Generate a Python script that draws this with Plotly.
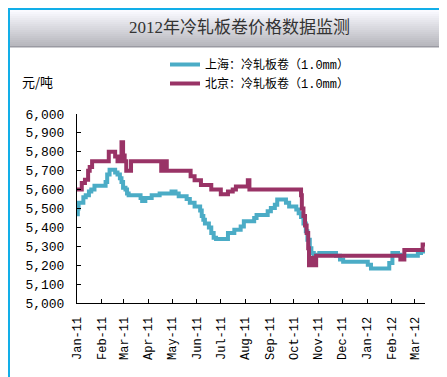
import plotly.graph_objects as go
import pandas as pd

# ---------------- data ----------------
# Shanghai: cold-rolled coil (1.0mm), change points (date, price)
sh_dates = ["2011-01-01","2011-01-02","2011-01-03","2011-01-09","2011-01-12","2011-01-16","2011-01-19",
            "2011-01-23","2011-02-06","2011-02-08","2011-02-11","2011-02-18","2011-02-21","2011-02-24",
            "2011-02-26","2011-02-28","2011-03-03","2011-03-05","2011-03-07","2011-03-22","2011-03-24",
            "2011-03-28","2011-04-05","2011-04-15","2011-04-30","2011-05-05","2011-05-09","2011-05-19",
            "2011-05-23","2011-05-29","2011-06-05","2011-06-07","2011-06-09","2011-06-11","2011-06-16",
            "2011-06-19","2011-06-22","2011-06-25","2011-07-10","2011-07-18","2011-07-26","2011-07-30",
            "2011-08-12","2011-08-15","2011-08-29","2011-09-02","2011-09-07","2011-09-10","2011-09-21",
            "2011-09-25","2011-10-04","2011-10-07","2011-10-10","2011-10-13","2011-10-16","2011-10-18",
            "2011-10-21","2011-10-23","2011-10-26","2011-11-02","2011-11-23","2011-11-28","2011-12-02",
            "2012-01-02","2012-01-06","2012-01-29","2012-02-02","2012-02-09","2012-02-12","2012-03-05",
            "2012-03-09","2012-03-14"]
sh_values = [5470,5500,5530,5560,5570,5590,5600,
             5620,5640,5680,5705,5690,5680,5660,
             5640,5610,5600,5580,5570,5555,5540,
             5555,5570,5580,5590,5580,5565,5550,
             5530,5510,5490,5460,5440,5420,5400,
             5370,5345,5338,5370,5388,5405,5432,
             5450,5465,5485,5503,5520,5547,5530,
             5510,5495,5475,5455,5420,5380,5335,
             5290,5265,5255,5265,5250,5230,5218,
             5203,5182,5212,5265,5255,5250,5265,
             5273,5273]

# Beijing: cold-rolled coil (1.0mm)
bj_dates = ["2011-01-01","2011-01-07","2011-01-11","2011-01-15","2011-01-17","2011-01-20","2011-02-10",
            "2011-02-18","2011-02-21","2011-02-26","2011-02-28","2011-03-02","2011-03-04","2011-03-10",
            "2011-04-17","2011-04-19","2011-04-24","2011-05-24","2011-05-29","2011-06-06","2011-06-19",
            "2011-07-01","2011-07-10","2011-07-16","2011-07-20","2011-08-04","2011-08-06","2011-10-10",
            "2011-10-11","2011-10-13","2011-10-15","2011-10-17","2011-10-19","2011-10-20","2011-10-22",
            "2011-10-23","2011-10-25","2011-10-27","2011-10-29","2012-02-12","2012-02-17","2012-03-11",
            "2012-03-14"]
bj_values = [5600,5635,5652,5700,5720,5750,5800,
             5775,5750,5850,5780,5750,5700,5750,
             5700,5750,5700,5670,5650,5625,5600,
             5575,5590,5600,5617,5650,5600,5570,
             5500,5460,5410,5370,5290,5200,5240,
             5200,5240,5200,5250,5230,5280,5310,
             5310]

series_names = ["上海：冷轧板卷（1.0mm）", "北京：冷轧板卷（1.0mm）"]
series_colors = ["#4BACC6", "#993366"]
y_ticks = list(range(5000, 6001, 100))
title_text = "2012年冷轧板卷价格数据监测"
unit_text = "元/吨"

# ---------------- geometry helpers ----------------
W, H = 447, 377
L, R, T, B = 69, 417, 106, 295
def px(x):
    return (x - L) / (R - L)
def py(y):
    return (B - y) / (B - T)

fig = go.Figure()
fig.add_trace(go.Scatter(x=pd.to_datetime(sh_dates), y=sh_values, name=series_names[0],
                         mode="lines", line=dict(color=series_colors[0], width=4, shape="hv")))
fig.add_trace(go.Scatter(x=pd.to_datetime(bj_dates), y=bj_values, name=series_names[1],
                         mode="lines", line=dict(color=series_colors[1], width=4, shape="hv")))

shapes = []
# title band gradient
top, bot = 2, 38
n = 18
for i in range(n):
    y0 = top + (bot - top) * i / n
    y1 = top + (bot - top) * (i + 1) / n
    t = i / (n - 1)
    c = int(250 - t * 66)
    shapes.append(dict(type="rect", xref="paper", yref="paper",
                       x0=px(2), x1=px(444), y0=py(y1 + 0.3), y1=py(y0),
                       fillcolor=f"rgb({c},{c},{min(255, c + 6)})", line=dict(width=0), layer="below"))
shapes.append(dict(type="rect", xref="paper", yref="paper", x0=px(2), x1=px(444), y0=py(39.5), y1=py(38),
                   fillcolor="#9a9aa2", line=dict(width=0), layer="below"))
# outer border
shapes.append(dict(type="rect", xref="paper", yref="paper", x0=px(1), x1=px(445), y0=py(375.5), y1=py(1),
                   line=dict(color="#12AEE8", width=2), fillcolor="rgba(0,0,0,0)"))

fig.update_layout(
    width=W, height=H,
    margin=dict(l=L, r=W - R, t=T, b=H - B, pad=0),
    paper_bgcolor="white", plot_bgcolor="white",
    showlegend=True,
    legend=dict(x=px(157), y=py(42), xanchor="left", yanchor="top",
                font=dict(family="Liberation Mono, Noto Sans CJK SC", size=12, color="#000"),
                bgcolor="rgba(0,0,0,0)", itemwidth=30, tracegroupgap=0),
    shapes=shapes,
    annotations=[
        dict(text=title_text, xref="paper", yref="paper", x=px(231), y=py(19),
             xanchor="center", yanchor="middle", showarrow=False,
             font=dict(family="Liberation Serif, Noto Sans CJK SC", size=17, color="#333")),
        dict(text=unit_text, xref="paper", yref="paper", x=px(12), y=py(73),
             xanchor="left", yanchor="middle", showarrow=False,
             font=dict(family="Noto Sans CJK SC", size=13, color="#000")),
    ],
    xaxis=dict(type="date", range=["2011-01-01", "2012-03-14"],
               tick0="2011-01-01", dtick="M1", tickformat="%b-%y", tickangle=-90,
               ticks="inside", ticklen=4, tickcolor="black",
               showline=True, linecolor="black", linewidth=1, showgrid=False, zeroline=False,
               ticklabelstandoff=8,
               tickfont=dict(family="Liberation Mono", size=12, color="#000")),
    yaxis=dict(range=[5000, 6000], tickvals=y_ticks, tickformat=",",
               ticks="inside", ticklen=4, tickcolor="black",
               showline=True, linecolor="black", linewidth=1, showgrid=False, zeroline=False,
               ticklabelstandoff=9,
               tickfont=dict(family="Liberation Mono", size=13, color="#000")),
)

fig.write_html("out.html")
